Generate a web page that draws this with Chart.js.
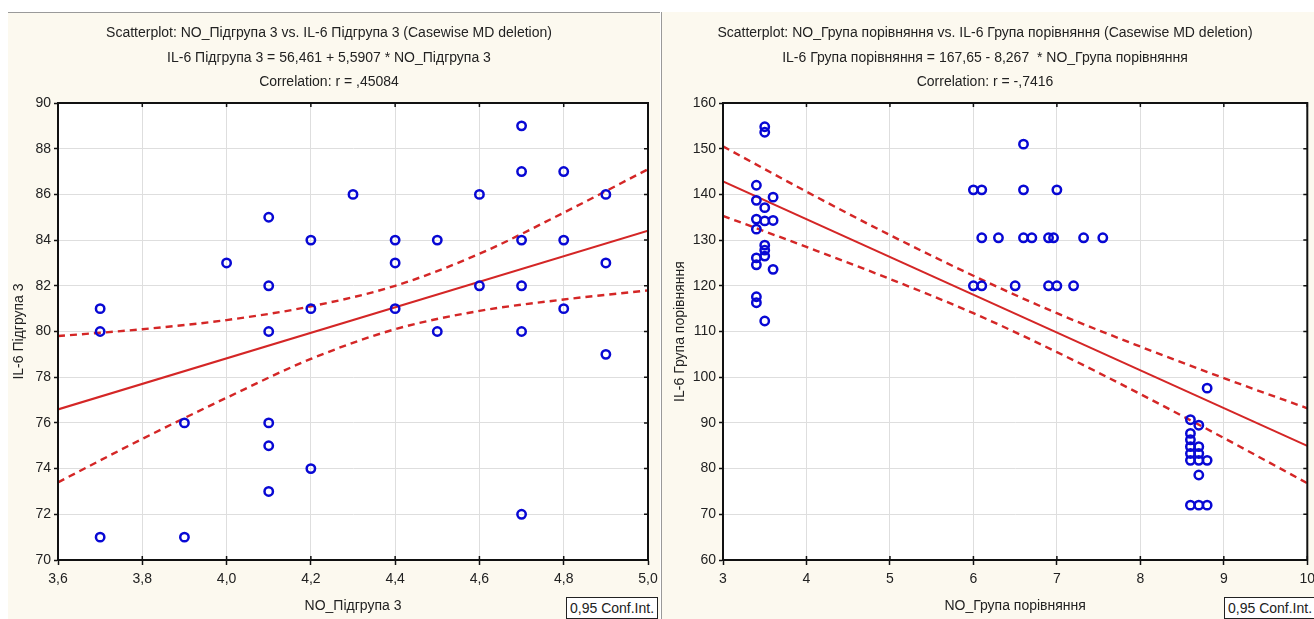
<!DOCTYPE html>
<html>
<head>
<meta charset="utf-8">
<script src="https://cdn.jsdelivr.net/npm/chart.js@4/dist/chart.umd.min.js"></script>
<style>
  body { margin: 0; background: #ffffff; width: 1314px; height: 619px; overflow: hidden; position: relative; font-family: 'Liberation Sans', Arial, sans-serif; }
  .panel { position: absolute; top: 12px; height: 607px; background: #fcf9ef; }
  #panelLeft { left: 8px; width: 652px; border-top: 1px solid #9a9a9a; }
  #panelRight { left: 661px; width: 653px; border-left: 1px solid #9a9a9a; }
  .wrap { position: absolute; top: 0; height: 619px; }
  .legendBox { position: absolute; top: 597px; height: 22px; background: #fff; border: 1px solid #222; font-size: 14px; color: #222; line-height: 21px; padding: 0 3px; box-sizing: border-box; white-space: nowrap; }
</style>
</head>
<body>
<div class="panel" id="panelLeft"></div>
<div class="panel" id="panelRight"></div>
<div class="wrap" style="left:10px;width:650px"><canvas id="leftChart"></canvas></div>
<div class="wrap" style="left:662px;width:652px"><canvas id="rightChart"></canvas></div>
<div class="legendBox" style="left:566px;width:92px">0,95 Conf.Int.</div>
<div class="legendBox" style="left:1224px;width:95px">0,95 Conf.Int.</div>
<script>
// ---- left plot: Підгрупа 3 ----
const leftX = [3.7, 3.7, 3.7, 3.9, 3.9, 4.0, 4.1, 4.1, 4.1, 4.1, 4.1, 4.1, 4.2, 4.2, 4.2, 4.3, 4.4, 4.4, 4.4,
    4.5, 4.5, 4.6, 4.6, 4.7, 4.7, 4.7, 4.7, 4.7, 4.7, 4.8, 4.8, 4.8, 4.9, 4.9, 4.9];
const leftY = [81, 80, 71, 76, 71, 83, 85, 82, 80, 76, 75, 73, 84, 81, 74, 86, 84, 83, 81,
    84, 80, 86, 82, 89, 87, 84, 82, 80, 72, 87, 84, 81, 86, 83, 79];
const leftFitX = [3.6, 5.0];
const leftFitY = [76.59, 84.41];
const leftCiX = [3.6, 3.8, 4.0, 4.2, 4.4, 4.6, 4.8, 5.0];
const leftCiUpper = [79.8, 80.1, 80.5, 81.1, 82.0, 83.4, 85.2, 87.1];
const leftCiLower = [73.4, 75.3, 77.1, 78.8, 80.1, 80.9, 81.4, 81.8];
const leftXTicks = [3.6, 3.8, 4.0, 4.2, 4.4, 4.6, 4.8, 5.0];
const leftXTickLabels = ['3,6', '3,8', '4,0', '4,2', '4,4', '4,6', '4,8', '5,0'];
const leftYTicks = [70, 72, 74, 76, 78, 80, 82, 84, 86, 88, 90];
const leftYTickLabels = ['70', '72', '74', '76', '78', '80', '82', '84', '86', '88', '90'];

// ---- right plot: Група порівняння ----
const rightX = [3.4, 3.4, 3.4, 3.4, 3.4, 3.4, 3.4, 3.4,
    3.5, 3.5, 3.5, 3.5, 3.5, 3.5, 3.5, 3.5,
    3.6, 3.6, 3.6,
    6.0, 6.0, 6.1, 6.1, 6.1, 6.3, 6.5, 6.6, 6.6, 6.6, 6.7, 6.9, 6.9, 6.96, 7.0, 7.0, 7.2, 7.32, 7.55,
    8.6, 8.6, 8.6, 8.6, 8.6, 8.6, 8.6,
    8.7, 8.7, 8.7, 8.7, 8.7, 8.7,
    8.8, 8.8, 8.8];
const rightY = [142, 138.7, 134.6, 132.4, 126.1, 124.6, 117.6, 116.3,
    154.8, 153.6, 137.1, 134.2, 128.9, 127.8, 126.5, 112.3,
    139.4, 134.3, 123.6,
    141, 120, 141, 130.5, 120, 130.5, 120, 151, 141, 130.5, 130.5, 130.5, 120, 130.5, 141, 120, 120, 130.5, 130.5,
    90.7, 87.7, 86.3, 84.8, 83.3, 81.8, 72,
    89.5, 84.8, 83.3, 81.8, 78.6, 72,
    97.6, 81.8, 72];
const rightFitX = [3, 10];
const rightFitY = [142.85, 84.98];
const rightCiX = [3, 4, 5, 6, 7, 8, 9, 10];
const rightCiUpper = [150.5, 140.6, 131.1, 122.2, 114.0, 106.7, 99.8, 93.2];
const rightCiLower = [135.3, 128.5, 121.5, 114.0, 105.5, 96.3, 86.7, 76.8];
const rightXTicks = [3, 4, 5, 6, 7, 8, 9, 10];
const rightXTickLabels = ['3', '4', '5', '6', '7', '8', '9', '10'];
const rightYTicks = [60, 70, 80, 90, 100, 110, 120, 130, 140, 150, 160];
const rightYTickLabels = ['60', '70', '80', '90', '100', '110', '120', '130', '140', '150', '160'];

const FONT = "'Liberation Sans', Arial, sans-serif";
const TEXT = '#222';
const RED = 'rgb(212, 38, 38)';
const BLUE = '#0808d4';

function pairs(xs, ys) {
    return xs.map((x, i) => ({ x: x, y: ys[i] }));
}

// white plot background, frame on top/right plus the small inward ticks
const framePlugin = {
    id: 'frame',
    beforeDraw(chart) {
        const a = chart.chartArea, ctx = chart.ctx;
        ctx.save();
        ctx.fillStyle = '#ffffff';
        ctx.fillRect(a.left, a.top, a.right - a.left, a.bottom - a.top);
        ctx.restore();
    },
    afterDraw(chart) {
        const a = chart.chartArea, ctx = chart.ctx;
        const xs = chart.scales.x, ys = chart.scales.y;
        ctx.save();
        ctx.strokeStyle = '#111';
        ctx.lineWidth = 2;
        ctx.strokeRect(a.left, a.top, a.right - a.left, a.bottom - a.top);
        ctx.lineWidth = 1.5;
        ctx.beginPath();
        xs.ticks.forEach((t, i) => {
            const px = xs.getPixelForTick(i);
            ctx.moveTo(px, a.top); ctx.lineTo(px, a.top + 4);
            ctx.moveTo(px, a.bottom); ctx.lineTo(px, a.bottom - 4);
        });
        ys.ticks.forEach((t, i) => {
            const py = ys.getPixelForTick(i);
            ctx.moveTo(a.right, py); ctx.lineTo(a.right - 4, py);
        });
        ctx.stroke();
        ctx.restore();
    }
};

function makeChart(id, cfg) {
    const datasets = [
        {
            type: 'scatter', data: pairs(cfg.x, cfg.y),
            pointStyle: 'circle', pointRadius: 4.2, pointHoverRadius: 4.2,
            borderColor: BLUE, backgroundColor: 'rgba(0,0,0,0)', pointBorderWidth: 2.5
        },
        {
            type: 'line', data: pairs(cfg.fitX, cfg.fitY),
            borderColor: RED, borderWidth: 2, pointRadius: 0, fill: false
        },
        {
            type: 'line', data: pairs(cfg.ciX, cfg.ciUpper),
            borderColor: RED, borderWidth: 2.4, borderDash: [7, 5], pointRadius: 0,
            cubicInterpolationMode: 'monotone', fill: false
        },
        {
            type: 'line', data: pairs(cfg.ciX, cfg.ciLower),
            borderColor: RED, borderWidth: 2.4, borderDash: [7, 5], pointRadius: 0,
            cubicInterpolationMode: 'monotone', fill: false
        }
    ];

    return new Chart(document.getElementById(id), {
        data: { datasets: datasets },
        options: {
            responsive: true,
            maintainAspectRatio: false,
            animation: false,
            layout: { padding: { left: 0, right: cfg.padRight, top: 0, bottom: 0 } },
            plugins: {
                legend: { display: false },
                tooltip: { enabled: false },
                title: {
                    display: true,
                    text: cfg.title,
                    color: TEXT,
                    font: { family: FONT, size: 14, weight: 'normal', lineHeight: 1.75 },
                    padding: { top: 21, bottom: 8.5 }
                }
            },
            scales: {
                x: {
                    type: 'linear',
                    min: cfg.xTicks[0], max: cfg.xTicks[cfg.xTicks.length - 1],
                    afterBuildTicks: s => { s.ticks = cfg.xTicks.map(v => ({ value: v })); },
                    afterFit: s => { s.height = 59; s.paddingLeft = 0; s.paddingRight = 0; },
                    ticks: {
                        color: TEXT, padding: 6, maxRotation: 0, autoSkip: false,
                        font: { family: FONT, size: 14 },
                        callback: (v, i) => cfg.xTickLabels[i]
                    },
                    grid: { color: '#dedede', lineWidth: 1, tickLength: 5, tickColor: '#111', tickWidth: 1.5 },
                    border: { display: true, color: '#111', width: 2 },
                    title: {
                        display: true, text: cfg.xTitle, color: TEXT,
                        font: { family: FONT, size: 14 }, padding: { top: 0, bottom: 4 }
                    }
                },
                y: {
                    type: 'linear',
                    min: cfg.yTicks[0], max: cfg.yTicks[cfg.yTicks.length - 1],
                    afterBuildTicks: s => { s.ticks = cfg.yTicks.map(v => ({ value: v })); },
                    afterFit: s => { s.width = cfg.yWidth; s.paddingTop = 0; s.paddingBottom = 0; },
                    ticks: {
                        color: TEXT, padding: 3, autoSkip: false,
                        font: { family: FONT, size: 14 },
                        callback: (v, i) => cfg.yTickLabels[i]
                    },
                    grid: { color: '#dedede', lineWidth: 1, tickLength: 4, tickColor: '#111', tickWidth: 1.5 },
                    border: { display: true, color: '#111', width: 2 },
                    title: {
                        display: true, text: cfg.yTitle, color: TEXT,
                        font: { family: FONT, size: 14 }, padding: { top: cfg.yTitlePad, bottom: 0 }
                    }
                }
            }
        },
        plugins: [framePlugin]
    });
}

makeChart('leftChart', {
    x: leftX, y: leftY, fitX: leftFitX, fitY: leftFitY,
    ciX: leftCiX, ciUpper: leftCiUpper, ciLower: leftCiLower,
    xTicks: leftXTicks, xTickLabels: leftXTickLabels,
    yTicks: leftYTicks, yTickLabels: leftYTickLabels,
    title: ['Scatterplot: NO_Підгрупа 3 vs. IL-6 Підгрупа 3 (Casewise MD deletion)',
        'IL-6 Підгрупа 3 = 56,461 + 5,5907 * NO_Підгрупа 3',
        'Correlation: r = ,45084'],
    xTitle: 'NO_Підгрупа 3',
    yTitle: 'IL-6 Підгрупа 3',
    padRight: 12, yWidth: 48, yTitlePad: 1
});

makeChart('rightChart', {
    x: rightX, y: rightY, fitX: rightFitX, fitY: rightFitY,
    ciX: rightCiX, ciUpper: rightCiUpper, ciLower: rightCiLower,
    xTicks: rightXTicks, xTickLabels: rightXTickLabels,
    yTicks: rightYTicks, yTickLabels: rightYTickLabels,
    title: ['Scatterplot: NO_Група порівняння vs. IL-6 Група порівняння (Casewise MD deletion)',
        'IL-6 Група порівняння = 167,65 - 8,267  * NO_Група порівняння',
        'Correlation: r = -,7416'],
    xTitle: 'NO_Група порівняння',
    yTitle: 'IL-6 Група порівняння',
    padRight: 6, yWidth: 61, yTitlePad: 10
});
</script>
</body>
</html>
